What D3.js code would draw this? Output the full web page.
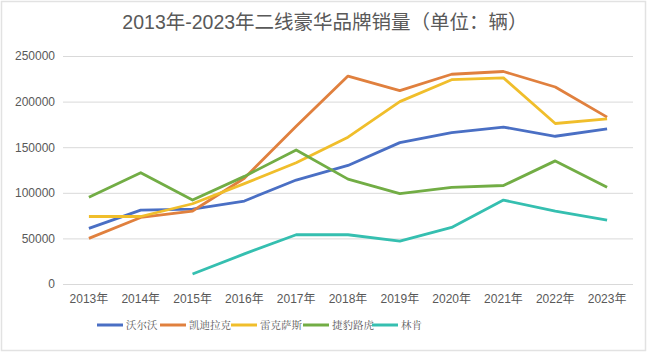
<!DOCTYPE html>
<html>
<head>
<meta charset="utf-8">
<style>
	body { margin: 0; background: #fff; }
	#chart { display: block; }
	.tick text { fill: #595959; }
</style>
</head>
<body>
<svg id="chart"></svg>
<script src="https://cdn.jsdelivr.net/npm/d3@7/dist/d3.min.js"></script>
<script>
var years = ['2013年', '2014年', '2015年', '2016年', '2017年', '2018年', '2019年', '2020年', '2021年', '2022年', '2023年'];
var brands = ['沃尔沃', '凯迪拉克', '雷克萨斯', '捷豹路虎', '林肯'];
var volvo    = [61000, 81000, 82000, 91000, 114000, 130000, 155000, 166000, 172000, 162000, 170000];
var cadillac = [50000, 73000, 80000, 116000, 173000, 228000, 212000, 230000, 233000, 216000, 183000];
var lexus    = [74000, 74000, 88000, 110000, 133000, 161000, 200000, 224000, 226000, 176000, 181000];
var jlr      = [95000, 122000, 92000, 118000, 147000, 115000, 99000, 106000, 108000, 135000, 106000];
var lincoln  = [null, null, 11000, 33000, 54000, 54000, 47000, 62000, 92000, 80000, 70000];
var yTicks = [0, 50000, 100000, 150000, 200000, 250000];
var colors = ['#4a6fc4', '#e0803e', '#f0be2b', '#72ad45', '#35bfb0'];

var series = [volvo, cadillac, lexus, jlr, lincoln];

var W = 650, H = 353;
var margin = { top: 56, right: 17, bottom: 69, left: 63 };
var width = W - margin.left - margin.right,
	height = H - margin.top - margin.bottom;

var svg = d3.select('#chart')
	.attr('width', W)
	.attr('height', H);

// card border
svg.append('rect')
	.attr('x', 1.5).attr('y', 1.5)
	.attr('width', W - 6).attr('height', H - 4)
	.attr('fill', 'none')
	.attr('stroke', '#e2e2e2')
	.attr('stroke-width', 1.5);

svg.append('text')
	.attr('x', 325)
	.attr('y', 29)
	.attr('text-anchor', 'middle')
	.style('font-family', 'Helvetica, "Liberation Sans", "Noto Sans CJK SC"')
	.style('font-size', '19.5px')
	.style('fill', '#595959')
	.text('2013年-2023年二线豪华品牌销量（单位：辆）');

var g = svg.append('g')
	.attr('transform', 'translate(' + margin.left + ',' + margin.top + ')');

var x = d3.scaleBand()
	.domain(years)
	.range([0, width]);

var y = d3.scaleLinear()
	.domain([0, 250000])
	.range([height, 0]);

// gridlines
var yAxis = d3.axisLeft(y)
	.tickValues(yTicks)
	.tickSize(-width)
	.tickPadding(8)
	.tickFormat(d3.format('d'));

var ya = g.append('g').call(yAxis);
ya.select('.domain').remove();
ya.selectAll('.tick line').attr('stroke', '#d9d9d9').attr('stroke-width', 1);
ya.selectAll('.tick text')
	.style('font-family', 'Helvetica, "Liberation Sans", sans-serif')
	.style('font-size', '12px');

var xAxis = d3.axisBottom(x).tickSize(0).tickPadding(10);
var xa = g.append('g')
	.attr('transform', 'translate(0,' + height + ')')
	.call(xAxis);
xa.select('.domain').remove();
xa.selectAll('.tick text')
	.style('font-family', 'Helvetica, "Liberation Sans", "Noto Sans CJK SC"')
	.style('font-size', '12px');

var line = d3.line()
	.defined(function (d) { return d != null; })
	.x(function (d, i) { return x(years[i]) + x.bandwidth() / 2; })
	.y(function (d) { return y(d); });

series.forEach(function (s, k) {
	g.append('path')
		.datum(s)
		.attr('d', line)
		.attr('fill', 'none')
		.attr('stroke', colors[k])
		.attr('stroke-width', 2.8)
		.attr('stroke-linejoin', 'round');
});

// legend
var legendX = [97, 160, 231, 303, 372];
var legend = svg.append('g').attr('transform', 'translate(0,325)');
brands.forEach(function (b, k) {
	legend.append('line')
		.attr('x1', legendX[k]).attr('x2', legendX[k] + 26)
		.attr('y1', 0).attr('y2', 0)
		.attr('stroke', colors[k])
		.attr('stroke-width', 3);
	legend.append('text')
		.attr('x', legendX[k] + 29)
		.attr('y', 4)
		.style('font-family', '"Noto Serif CJK SC", "Noto Sans CJK SC"')
		.style('font-size', '10.5px')
		.style('fill', '#595959')
		.text(b);
});
</script>
</body>
</html>
